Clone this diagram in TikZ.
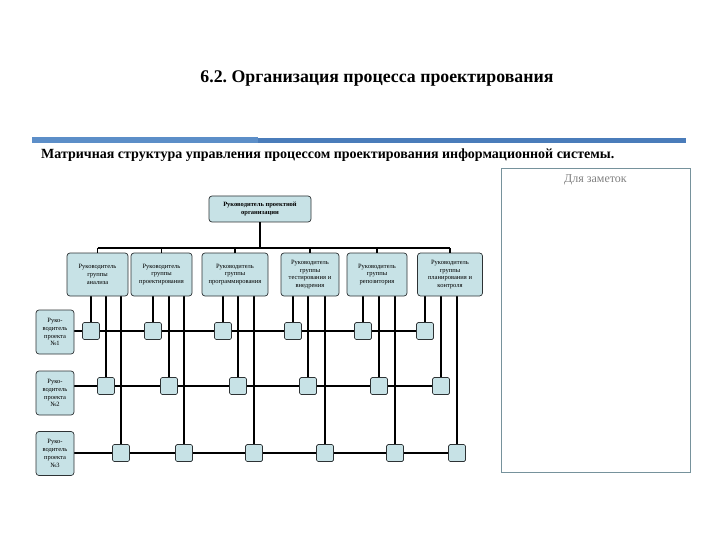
\documentclass[tikz,border=0pt]{standalone}
\usepackage{fontspec}
\setmainfont{Liberation Serif}
\usepackage{tikz}
\usetikzlibrary{positioning,backgrounds}
\definecolor{boxfill}{RGB}{199,226,230}
\definecolor{boxline}{RGB}{45,50,52}
\definecolor{barblue}{RGB}{74,124,186}
\definecolor{barlight}{RGB}{92,142,200}
\definecolor{noteline}{RGB}{118,146,156}
\frenchspacing

\begin{document}
\begin{tikzpicture}[x=1pt,y=-1pt,font=\fontsize{6.5}{7.8}\selectfont,
  box/.style={draw=boxline,rounded corners=3pt,fill=boxfill,align=center,inner sep=1pt,line width=0.7pt},
  grp/.style={box,minimum height=43pt},
  proj/.style={box,minimum width=38pt,minimum height=44pt,text width=36pt},
  cell/.style={draw=boxline,fill=boxfill,rounded corners=1.5pt,minimum size=17pt,inner sep=0pt,line width=0.7pt},
  link/.style={line width=1.6pt}]
\useasboundingbox (0,0) rectangle (720,540);
% header
\node[font=\fontsize{17.8}{20}\selectfont\bfseries] (title) at (377,79) {6.2. Организация процесса проектирования};
\fill[barlight] (32,137) rectangle (258,143);
\fill[barblue] (258,138) rectangle (686,143);
\node[anchor=west,inner sep=0pt,font=\fontsize{14}{16}\selectfont\bfseries] (sub) at (41,155) {Матричная структура управления процессом проектирования информационной системы.};
% notes
\node[draw=noteline,line width=0.8pt,minimum width=189pt,minimum height=304pt,inner sep=0pt] (notes) at (595.5,320) {};
\node[below=7pt of notes.north,inner sep=0pt,text=gray,font=\fontsize{12}{14}\selectfont] (notestxt) {Для заметок};
% managers
\node[box,minimum width=102pt,minimum height=26pt,font=\fontsize{6.5}{8}\selectfont\bfseries] (top) at (260,209) {Руководитель проектной\\организации};
\node[grp,minimum width=61pt] (ganal) at (97.5,274.5) {Руководитель\\группы\\анализа};
\node[grp,minimum width=61pt] (gproj) at (161.5,274.5) {Руководитель\\группы\\проектирования};
\node[grp,minimum width=66pt] (gprog) at (235,274.5) {Руководитель\\группы\\программирования};
\node[grp,minimum width=58pt] (gtest) at (310,274.5) {Руководитель\\группы\\тестирования и\\внедрения};
\node[grp,minimum width=60pt] (grep) at (377,274.5) {Руководитель\\группы\\репозитория};
\node[grp,minimum width=65pt] (gkontr) at (450,274.5) {Руководитель\\группы\\планирования и\\контроля};
\node[proj] (p1) at (55,332) {Руко-\\водитель\\проекта\\№1};
\node[proj] (p2) at (55,393) {Руко-\\водитель\\проекта\\№2};
\node[proj] (p3) at (55,453.5) {Руко-\\водитель\\проекта\\№3};
% bus
\coordinate (bus) at (0,248);
\draw[link] (top.south) -- (top.south |- bus);
\draw[link] (ganal.north |- bus) -- (gkontr.north |- bus);
\foreach \g in {ganal,gproj,gprog,gtest,grep,gkontr}
  \draw[link] (\g.north) -- (\g.north |- bus);
% matrix cells
\foreach \x [count=\i] in {91,153,223,293,363,425}
  \node[cell] (s\i-1) at (\x,331) {};
\foreach \x [count=\i] in {106,169,238,308,379,441}
  \node[cell] (s\i-2) at (\x,386) {};
\foreach \x [count=\i] in {121,184,254,325,395,457}
  \node[cell] (s\i-3) at (\x,453) {};
\begin{scope}[on background layer]
\foreach \i/\g in {1/ganal,2/gproj,3/gprog,4/gtest,5/grep,6/gkontr}{
  \draw[link] (s\i-1 |- \g.south) -- (s\i-1.center);
  \draw[link] (s\i-2 |- \g.south) -- (s\i-2.center);
  \draw[link] (s\i-3 |- \g.south) -- (s\i-3.center);
}
\draw[link] (p1.east |- s1-1) -- (s6-1.center);
\draw[link] (p2.east |- s1-2) -- (s6-2.center);
\draw[link] (p3.east |- s1-3) -- (s6-3.center);
\end{scope}
\end{tikzpicture}
\end{document}
